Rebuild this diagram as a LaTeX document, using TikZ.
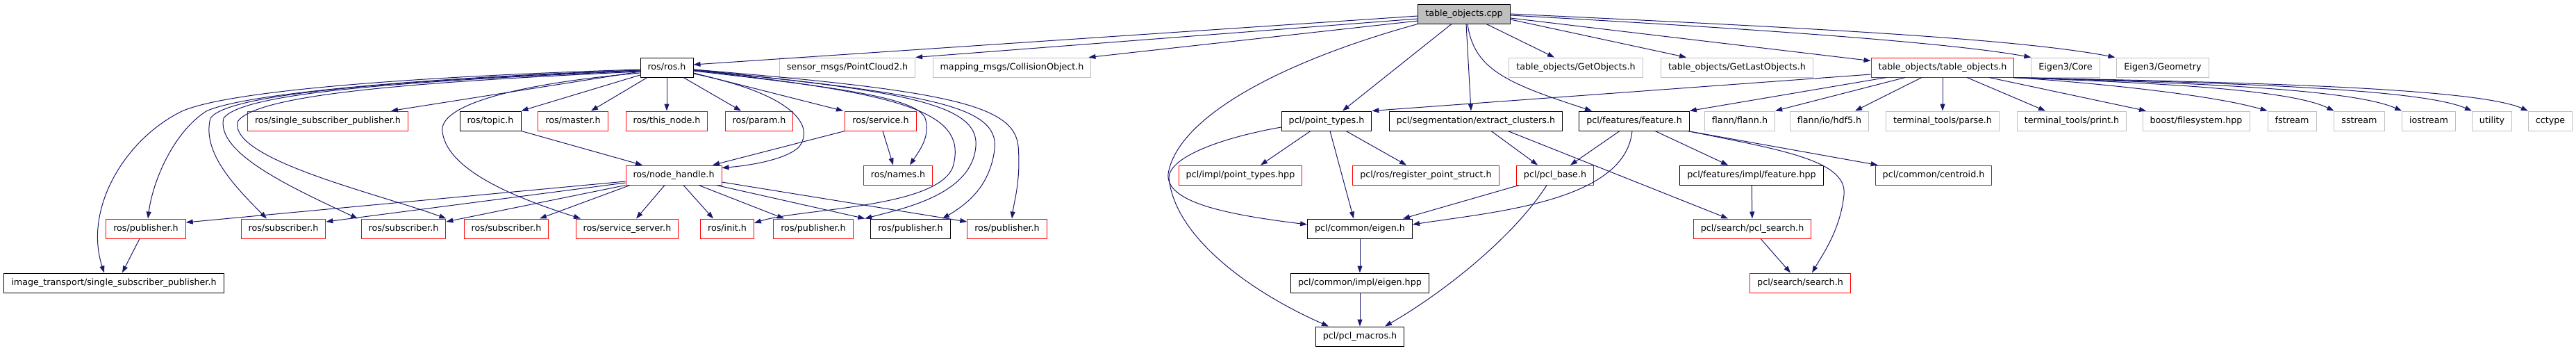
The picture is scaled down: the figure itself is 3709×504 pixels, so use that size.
\documentclass[tikz,border=0pt]{standalone}
\usepackage{fontspec}
\usetikzlibrary{arrows.meta}
\newfontfamily\dxfont{DejaVu Sans}
\definecolor{edgeblue}{HTML}{191970}
\definecolor{boxgray}{HTML}{BFBFBF}

\begin{document}
\begin{tikzpicture}[x=1pt, y=-1pt,
    hdr/.style={rectangle, draw=black, line width=1pt, minimum height=28pt, inner xsep=10.5pt, inner ysep=0pt, text height=9.5pt, text depth=3pt, font=\dxfont\fontsize{12.7}{14}\selectfont},
    hdrred/.style={hdr, draw=red},
    hdrgray/.style={hdr, draw=boxgray},
    hdrroot/.style={hdr, fill=boxgray},
    arrow/.style={-{Triangle[length=10pt,width=7pt]}, color=edgeblue, line width=1pt}
]
    \useasboundingbox (0,0) rectangle (3709,504);

    % 根节点
    \node[hdrroot] (cpp) at (2108,20) {table\_objects.cpp};

    % 第一层
    \node[hdr] (rosh) at (960,97) {ros/ros.h};
    \node[hdrgray] (pcloud) at (1220,97) {sensor\_msgs/PointCloud2.h};
    \node[hdrgray] (collobj) at (1457,97) {mapping\_msgs/CollisionObject.h};
    \node[hdrgray] (getobj) at (2269,97) {table\_objects/GetObjects.h};
    \node[hdrgray] (getlast) at (2501,97) {table\_objects/GetLastObjects.h};
    \node[hdrred] (tobjh) at (2797,97) {table\_objects/table\_objects.h};
    \node[hdrgray] (ecore) at (2974,97) {Eigen3/Core};
    \node[hdrgray] (egeom) at (3114,97) {Eigen3/Geometry};

    % 第二层
    \node[hdrred] (sspub) at (472,174) {ros/single\_subscriber\_publisher.h};
    \node[hdr] (topic) at (706,174) {ros/topic.h};
    \node[hdrred] (master) at (825,174) {ros/master.h};
    \node[hdrred] (thisnode) at (960,174) {ros/this\_node.h};
    \node[hdrred] (param) at (1093,174) {ros/param.h};
    \node[hdrred] (service) at (1268,174) {ros/service.h};
    \node[hdr] (ptypes) at (1910,174) {pcl/point\_types.h};
    \node[hdr] (extract) at (2125,174) {pcl/segmentation/extract\_clusters.h};
    \node[hdr] (feature) at (2353,174) {pcl/features/feature.h};
    \node[hdrgray] (flann) at (2505,174) {flann/flann.h};
    \node[hdrgray] (hdf5) at (2634,174) {flann/io/hdf5.h};
    \node[hdrgray] (parse) at (2797,174) {terminal\_tools/parse.h};
    \node[hdrgray] (print) at (2983,174) {terminal\_tools/print.h};
    \node[hdrgray] (bfs) at (3162,174) {boost/filesystem.hpp};
    \node[hdrgray] (fstream) at (3300,174) {fstream};
    \node[hdrgray] (sstream) at (3397,174) {sstream};
    \node[hdrgray] (iostream) at (3497,174) {iostream};
    \node[hdrgray] (utility) at (3588,174) {utility};
    \node[hdrgray] (cctype) at (3672,174) {cctype};

    % 第三层
    \node[hdrred] (nodeh) at (970,252) {ros/node\_handle.h};
    \node[hdrred] (names) at (1293,252) {ros/names.h};
    \node[hdrred] (ptypeshpp) at (1786,252) {pcl/impl/point\_types.hpp};
    \node[hdrred] (regpt) at (2053,252) {pcl/ros/register\_point\_struct.h};
    \node[hdrred] (pclbase) at (2239,252) {pcl/pcl\_base.h};
    \node[hdr] (featurehpp) at (2522,252) {pcl/features/impl/feature.hpp};
    \node[hdrred] (centroid) at (2784,252) {pcl/common/centroid.h};

    % 第四层
    \node[hdrred] (pubA) at (210,329) {ros/publisher.h};
    \node[hdrred] (subA) at (408,329) {ros/subscriber.h};
    \node[hdrred] (subB) at (581,329) {ros/subscriber.h};
    \node[hdrred] (subC) at (729,329) {ros/subscriber.h};
    \node[hdrred] (srvserver) at (903,329) {ros/service\_server.h};
    \node[hdrred] (init) at (1047,329) {ros/init.h};
    \node[hdrred] (pubB) at (1171,329) {ros/publisher.h};
    \node[hdr] (pubC) at (1311,329) {ros/publisher.h};
    \node[hdrred] (pubD) at (1450,329) {ros/publisher.h};
    \node[hdr] (eigen) at (1958,329) {pcl/common/eigen.h};
    \node[hdrred] (pclsearch) at (2523,329) {pcl/search/pcl\_search.h};

    % 第五、六层
    \node[hdr] (itssp) at (164,407) {image\_transport/single\_subscriber\_publisher.h};
    \node[hdr] (eigenhpp) at (1958,407) {pcl/common/impl/eigen.hpp};
    \node[hdrred] (search) at (2592,407) {pcl/search/search.h};
    \node[hdr] (macros) at (1958,484) {pcl/pcl\_macros.h};

    % 箭头 - table_objects.cpp
    \draw[arrow] ([yshift=-3pt]cpp.west) -- ([yshift=4pt]rosh.east);
    \draw[arrow] ([yshift=-7pt]cpp.west) -- (pcloud.north east);
    \draw[arrow] ([yshift=-10pt]cpp.west) -- ([xshift=-4pt]collobj.north east);
    \draw[arrow] (cpp.south west) .. controls (1840,90) and (1695,170) .. (1682,250) .. controls (1678,290) and (1760,308) .. ([yshift=6pt]eigen.west);
    \draw[arrow] ([xshift=-18pt]cpp.south) -- ([xshift=23pt]ptypes.north);
    \draw[arrow] ([xshift=3pt]cpp.south) -- ([xshift=-7pt]extract.north);
    \draw[arrow] ([xshift=5pt]cpp.south) .. controls (2122,100) and (2170,120) .. ([xshift=-61pt]feature.north);
    \draw[arrow] ([xshift=32pt]cpp.south) -- ([xshift=-31pt]getobj.north);
    \draw[arrow] ([yshift=-8pt]cpp.east) -- ([xshift=-73pt]getlast.north);
    \draw[arrow] ([yshift=-6pt]cpp.east) -- ([yshift=-5pt]tobjh.north west);
    \draw[arrow] ([yshift=-2pt]cpp.east) .. controls (2500,40) and (2800,60) .. (ecore.north west);
    \draw[arrow] (cpp.east) .. controls (2600,40) and (2900,55) .. ([xshift=-2pt]egeom.north west);

    % 箭头 - ros/ros.h 左侧
    \draw[arrow] ([yshift=-3pt]rosh.west) .. controls (600,110) and (330,130) .. (262,160) .. controls (180,200) and (120,300) .. ([xshift=-14pt]itssp.north);
    \draw[arrow] ([yshift=-4pt]rosh.west) .. controls (600,112) and (350,135) .. (297,160) .. controls (250,190) and (220,260) .. ([xshift=3pt]pubA.north);
    \draw[arrow] ([yshift=-4pt]rosh.west) .. controls (600,115) and (330,132) .. (303,170) .. controls (290,220) and (340,270) .. ([xshift=-24pt]subA.north);
    \draw[arrow] ([yshift=-5pt]rosh.west) .. controls (600,116) and (350,132) .. (322,170) .. controls (310,220) and (420,270) .. ([xshift=-66pt]subB.north);
    \draw[arrow] ([yshift=-6pt]rosh.west) .. controls (600,118) and (370,135) .. (342,175) .. controls (330,230) and (550,280) .. (subB.north east);
    \draw[arrow] ([yshift=-8pt]rosh.west) .. controls (750,120) and (630,150) .. (637,190) .. controls (645,250) and (760,290) .. ([xshift=-67pt]srvserver.north);
    \draw[arrow] ([yshift=-6pt]rosh.west) -- ([xshift=91pt]sspub.north);
    \draw[arrow] ([yshift=-11pt]rosh.west) -- (topic.north east);
    \draw[arrow] ([xshift=-28pt]rosh.south) -- ([xshift=26pt]master.north);
    \draw[arrow] (rosh) -- (thisnode);
    \draw[arrow] ([xshift=24pt]rosh.south) -- ([xshift=-26pt]param.north);
    \draw[arrow] ([yshift=-8pt]rosh.east) -- ([xshift=-54pt]service.north);

    % 箭头 - ros/ros.h 右侧
    \draw[arrow] ([yshift=-9pt]rosh.east) .. controls (1140,135) and (1175,180) .. (1150,212) .. controls (1130,230) and (1080,238) .. ([yshift=-4pt]nodeh.north east);
    \draw[arrow] ([yshift=-5pt]rosh.east) .. controls (1200,125) and (1320,140) .. (1332,170) .. controls (1340,195) and (1325,215) .. ([xshift=17pt]names.north);
    \draw[arrow] ([yshift=-4pt]rosh.east) .. controls (1300,135) and (1395,160) .. (1372,240) .. controls (1350,300) and (1150,300) .. ([yshift=8pt]init.east);
    \draw[arrow] ([yshift=-4pt]rosh.east) .. controls (1300,130) and (1410,150) .. (1405,210) .. controls (1400,280) and (1300,300) .. ([xshift=-8pt]pubC.north west);
    \draw[arrow] ([yshift=-3pt]rosh.east) .. controls (1330,135) and (1440,150) .. (1432,215) .. controls (1425,270) and (1390,295) .. ([xshift=46pt]pubC.north);
    \draw[arrow] ([yshift=-3pt]rosh.east) .. controls (1360,130) and (1460,150) .. (1466,210) .. controls (1470,260) and (1460,290) .. ([xshift=7pt]pubD.north);

    % 箭头 - topic, service
    \draw[arrow] (topic.south east) -- ([xshift=-45pt]nodeh.north);
    \draw[arrow] (service.south west) -- ([xshift=56pt]nodeh.north);
    \draw[arrow] ([xshift=3pt]service.south) -- ([xshift=-7pt]names.north);

    % 箭头 - ros/node_handle.h
    \draw[arrow] ([yshift=-9pt]nodeh.west) -- ([yshift=9pt]pubA.east);
    \draw[arrow] ([yshift=-11pt]nodeh.west) -- ([yshift=10pt]subA.east);
    \draw[arrow] (nodeh.south west) -- ([yshift=10pt]subB.east);
    \draw[arrow] ([xshift=-63pt]nodeh.south) -- ([xshift=48pt]subC.north);
    \draw[arrow] ([xshift=-13pt]nodeh.south) -- ([xshift=13pt]srvserver.north);
    \draw[arrow] ([xshift=14pt]nodeh.south) -- ([xshift=-20pt]init.north);
    \draw[arrow] ([xshift=36pt]nodeh.south) -- ([xshift=-42pt]pubB.north);
    \draw[arrow] ([xshift=-8pt]nodeh.south east) -- ([xshift=-8pt]pubC.north west);
    \draw[arrow] ([yshift=-10pt]nodeh.east) -- ([yshift=10pt]pubD.west);
    \draw[arrow] ([xshift=-9pt]pubA.south) -- ([xshift=12pt]itssp.north);

    % 箭头 - pcl
    \draw[arrow] ([yshift=-9pt]ptypes.west) .. controls (1760,198) and (1685,225) .. (1683,255) .. controls (1690,340) and (1800,420) .. ([xshift=-45pt]macros.north);
    \draw[arrow] ([xshift=-23pt]ptypes.south) -- ([xshift=29pt]ptypeshpp.north);
    \draw[arrow] ([xshift=28pt]ptypes.south) -- ([xshift=-28pt]regpt.north);
    \draw[arrow] ([xshift=5pt]ptypes.south) -- ([xshift=-9pt]eigen.north);
    \draw[arrow] ([xshift=22pt]extract.south) -- ([xshift=-25pt]pclbase.north);
    \draw[arrow] ([xshift=46pt]extract.south) -- ([xshift=-35pt]pclsearch.north);
    \draw[arrow] ([xshift=-21pt]feature.south) -- ([xshift=22pt]pclbase.north);
    \draw[arrow] ([xshift=-3pt]feature.south) .. controls (2340,290) and (2150,305) .. ([yshift=6pt]eigen.east);
    \draw[arrow] ([xshift=30pt]feature.south) -- ([xshift=-34pt]featurehpp.north);
    \draw[arrow] ([xshift=-3pt]feature.south east) .. controls (2560,215) and (2660,230) .. (2655,280) .. controls (2650,330) and (2625,365) .. ([xshift=17pt]search.north);
    \draw[arrow] ([xshift=-3pt]feature.south east) -- ([xshift=4pt]centroid.north west);
    \draw[arrow] (featurehpp) -- (pclsearch);
    \draw[arrow] ([xshift=12pt]pclsearch.south) -- ([xshift=-14pt]search.north);
    \draw[arrow] ([xshift=-52pt]pclbase.south) -- ([xshift=62pt]eigen.north);
    \draw[arrow] ([xshift=-12pt]pclbase.south) .. controls (2180,340) and (2080,420) .. ([xshift=36pt]macros.north);
    \draw[arrow] (eigen) -- (eigenhpp);
    \draw[arrow] (eigenhpp) -- (macros);

    % 箭头 - table_objects.h
    \draw[arrow] ([yshift=-10pt]tobjh.west) -- (ptypes.north east);
    \draw[arrow] ([xshift=-81pt]tobjh.south) -- (feature.north east);
    \draw[arrow] ([xshift=-54pt]tobjh.south) -- (flann.north east);
    \draw[arrow] ([xshift=-30pt]tobjh.south) -- ([xshift=37pt]hdf5.north);
    \draw[arrow] (tobjh) -- (parse);
    \draw[arrow] ([xshift=35pt]tobjh.south) -- ([xshift=-38pt]print.north);
    \draw[arrow] ([xshift=67pt]tobjh.south) -- ([xshift=-72pt]bfs.north);
    \draw[arrow] ([xshift=-1pt]tobjh.south east) .. controls (3000,118) and (3180,135) .. (fstream.north west);
    \draw[arrow] ([xshift=-1pt]tobjh.south east) .. controls (3050,118) and (3290,125) .. (sstream.north west);
    \draw[arrow] ([xshift=-1pt]tobjh.south east) .. controls (3100,118) and (3380,125) .. (iostream.north west);
    \draw[arrow] ([xshift=-1pt]tobjh.south east) .. controls (3150,118) and (3480,125) .. (utility.north west);
    \draw[arrow] ([xshift=-1pt]tobjh.south east) .. controls (3200,118) and (3560,125) .. (cctype.north west);
\end{tikzpicture}
\end{document}
